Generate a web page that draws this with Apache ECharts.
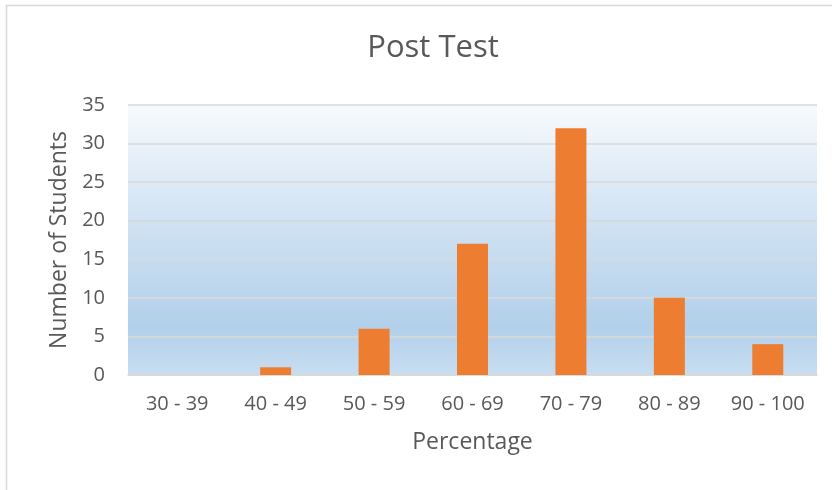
<!DOCTYPE html>
<html>
<head>
<meta charset="utf-8">
<script src="https://cdn.jsdelivr.net/npm/echarts@6/dist/echarts.min.js"></script>
<style>html,body{margin:0;padding:0;background:#fff;}#c{width:832px;height:490px;}</style>
</head>
<body>
<div id="c"></div>
<script>
const categories = ['30 - 39', '40 - 49', '50 - 59', '60 - 69', '70 - 79', '80 - 89', '90 - 100'];
const students = [0, 1, 6, 17, 32, 10, 4];
const yTicks = [0, 5, 10, 15, 20, 25, 30, 35];
const titleText = 'Post Test';
const xName = 'Percentage';
const yName = 'Number of Students';

const FONT = '"Open Sans", sans-serif';
const chart = echarts.init(document.getElementById('c'), null, {renderer: 'canvas'});
chart.setOption({
  animation: false,
  backgroundColor: '#ffffff',
  graphic: [{
    type: 'rect', silent: true, z: -10,
    shape: {x: 6.5, y: 5.5, width: 900, height: 600},
    style: {fill: 'none', stroke: '#d9d9d9', lineWidth: 1.5}
  }],
  title: {
    text: titleText, left: 428, top: 28, textAlign: 'center',
    textStyle: {fontFamily: FONT, fontSize: 31, fontWeight: 'normal', color: '#595959'}
  },
  grid: {
    left: 128, right: 15, top: 105, bottom: 115,
    show: true, borderWidth: 0,
    backgroundColor: new echarts.graphic.LinearGradient(0, 0, 0, 1, [
      {offset: 0, color: '#f7fafd'},
      {offset: 0.45, color: '#cfe1f2'},
      {offset: 0.82, color: '#b2d0ea'},
      {offset: 1, color: '#c8ddf0'}
    ])
  },
  xAxis: {
    type: 'category', data: categories,
    name: xName, nameLocation: 'middle', nameGap: 56,
    nameTextStyle: {fontFamily: FONT, fontSize: 23, color: '#595959'},
    axisLine: {show: true, lineStyle: {color: '#d9d9d9', width: 1.5}},
    axisTick: {show: false},
    axisLabel: {fontFamily: FONT, fontSize: 20, color: '#595959', margin: 19}
  },
  yAxis: {
    type: 'value', min: yTicks[0], max: yTicks[yTicks.length - 1], interval: 5,
    name: yName, nameLocation: 'middle', nameGap: 56,
    nameTextStyle: {fontFamily: FONT, fontSize: 23, color: '#595959'},
    axisLine: {show: false}, axisTick: {show: false},
    axisLabel: {fontFamily: FONT, fontSize: 20, color: '#595959', margin: 23},
    splitLine: {lineStyle: {color: '#d9d9d9', width: 1.5}}
  },
  series: [{
    type: 'bar', data: students, barWidth: 31,
    itemStyle: {color: '#ed7d31'}
  }]
});
</script>
</body>
</html>
